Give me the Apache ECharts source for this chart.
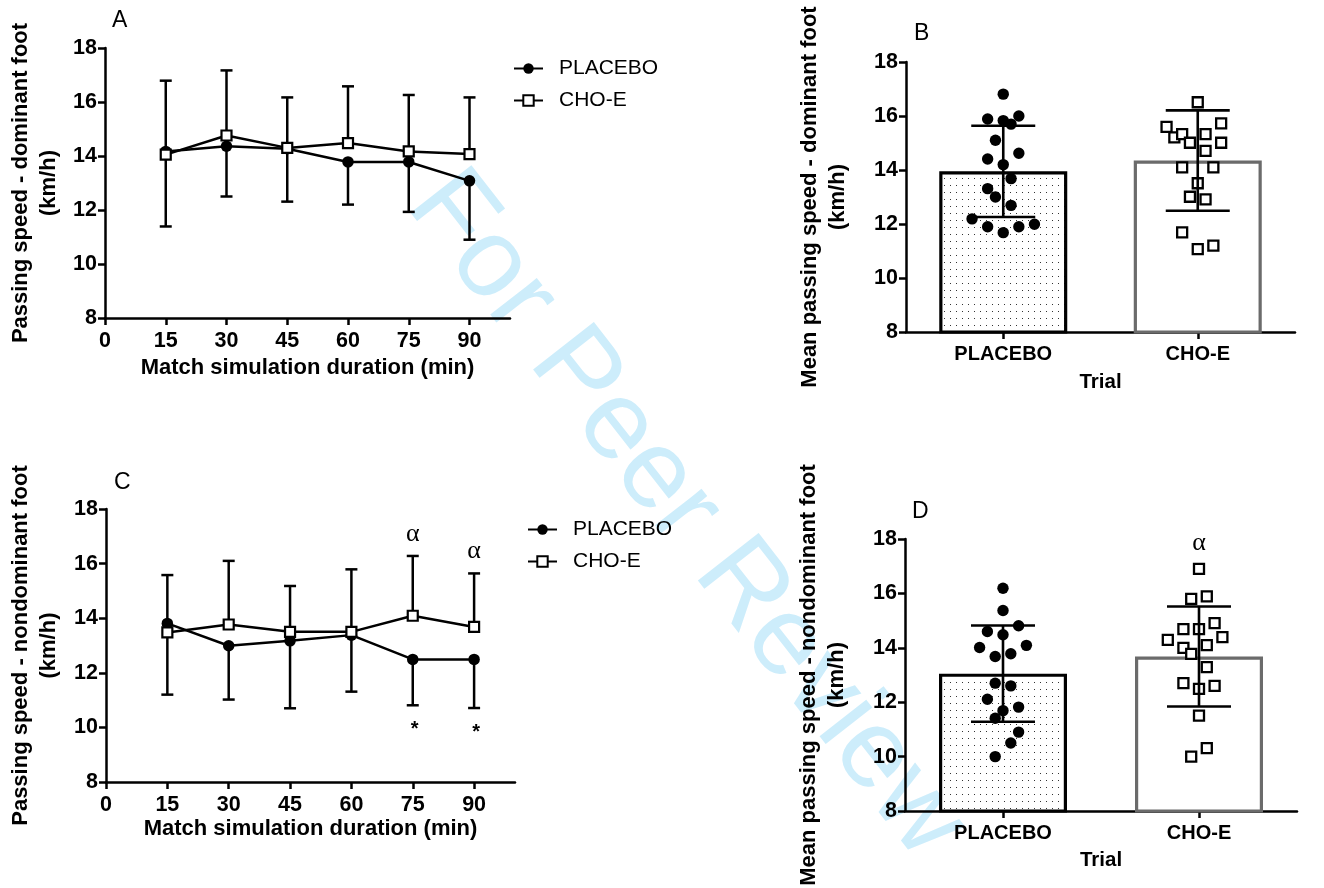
<!DOCTYPE html>
<html>
<head>
<meta charset="utf-8">
<title>Passing speed</title>
<script src="https://cdn.jsdelivr.net/npm/echarts@6/dist/echarts.min.js"></script>
<style>
  html, body { margin: 0; padding: 0; background: #fff; }
  #chart { width: 1324px; height: 888px; }
</style>
</head>
<body>
<div id="chart"></div>
<script>
// time points of the match simulation (min)
const timePoints = [15, 30, 45, 60, 75, 90];
const xTicks = [0, 15, 30, 45, 60, 75, 90];

// A - dominant foot, mean / SD
const domPlaceboMean = [14.17, 14.36, 14.27, 13.78, 13.78, 13.08];
const domPlaceboSd = [2.78, 1.86, 1.96, 1.58, 1.85, 2.18];
const domChoMean = [14.05, 14.76, 14.30, 14.48, 14.17, 14.07];
const domChoSd = [2.74, 2.41, 1.87, 2.10, 2.09, 2.10];

// C - nondominant foot, mean / SD
const ndPlaceboMean = [13.81, 12.99, 13.17, 13.38, 12.49, 12.49];
const ndPlaceboSd = [2.61, 1.97, 2.47, 2.07, 1.68, 1.78];
const ndChoMean = [13.48, 13.77, 13.50, 13.50, 14.09, 13.68];
const ndChoSd = [2.10, 2.33, 1.68, 2.29, 2.19, 1.96];
const ndAlphaAt = [75, 90];
const ndStarAt = [75, 90];

// B / D - whole match
const trials = ["PLACEBO", "CHO-E"];
const domTrialMean = [13.95, 14.35];
const domTrialSd = [1.69, 1.86];
const ndTrialMean = [13.05, 13.68];
const ndTrialSd = [1.77, 1.84];
const ndAlphaTrial = ["CHO-E"];

// individual players (value + column in the dot plot)
const domPlaceboPts = [16.81, 15.89, 15.83, 15.70, 16.00, 15.10, 14.41, 14.62, 14.20, 13.68, 13.31, 13.00, 12.69, 12.19, 11.90, 11.68, 11.90, 11.99];
const domPlaceboCol = [0, -2, 0, 1, 2, -1, -2, 2, 0, 1, -2, -1, 1, -4, -2, 0, 2, 4];
const domChoPts = [16.51, 15.60, 15.21, 15.33, 15.01, 15.33, 15.73, 15.01, 14.71, 14.10, 14.10, 13.51, 13.01, 12.91, 11.69, 11.07, 11.20];
const domChoCol = [0, -4, -3, -2, -1, 1, 3, 3, 1, -2, 2, 0, -1, 1, -2, 0, 2];
const ndPlaceboPts = [16.19, 15.37, 14.81, 14.60, 14.48, 14.01, 14.09, 13.68, 13.78, 12.70, 12.60, 12.11, 11.69, 11.82, 11.41, 10.90, 10.50, 10.00];
const ndPlaceboCol = [0, 0, 2, -2, 0, -3, 3, -1, 1, -1, 1, -2, 0, 2, -1, 2, 1, -1];
const ndChoPts = [16.90, 15.80, 15.89, 14.69, 14.69, 14.91, 14.29, 14.39, 14.00, 14.10, 13.78, 13.29, 12.70, 12.60, 12.49, 11.51, 10.00, 10.31];
const ndChoCol = [0, -1, 1, -2, 0, 2, -4, 3, -2, 1, -1, 1, -2, 2, 0, 0, -1, 1];

const FONT = '"Liberation Sans", Arial, sans-serif';
const COL_STEP = 7.8;

// dotted fill of the placebo bars
const dots = document.createElement("canvas");
dots.width = 6;
dots.height = 7;
const dctx = dots.getContext("2d");
dctx.fillStyle = "#fff";
dctx.fillRect(0, 0, 6, 7);
dctx.fillStyle = "#333";
dctx.fillRect(2, 3, 1, 1);

const chart = echarts.init(document.getElementById("chart"));

const axisLineStyle = { color: "#000", width: 2.5 };

function valueY(gi, name, gap) {
  return {
    type: "value", gridIndex: gi, min: 8, max: 18, interval: 2,
    axisLine: { show: true, lineStyle: axisLineStyle },
    axisTick: { show: true, length: 7, lineStyle: axisLineStyle },
    axisLabel: { fontSize: 21.5, fontWeight: "bold", color: "#000", margin: 8, fontFamily: FONT },
    splitLine: { show: false },
    name: name, nameLocation: "middle", nameRotate: 90, nameGap: gap,
    nameTextStyle: { fontSize: 22, fontWeight: "bold", color: "#000", lineHeight: 28, fontFamily: FONT },
  };
}

function timeX(gi, gap) {
  return {
    type: "value", gridIndex: gi, min: 0, max: 100,
    axisLine: { show: true, onZero: false, lineStyle: axisLineStyle },
    axisTick: { show: true, length: 7, lineStyle: axisLineStyle, customValues: xTicks },
    axisLabel: { fontSize: 21.5, fontWeight: "bold", color: "#000", margin: 12, fontFamily: FONT, customValues: xTicks },
    splitLine: { show: false },
    name: "Match simulation duration (min)", nameLocation: "middle", nameGap: gap,
    nameTextStyle: { fontSize: 22, fontWeight: "bold", color: "#000", fontFamily: FONT },
  };
}

function trialX(gi, gap) {
  return {
    type: "category", gridIndex: gi, data: trials,
    axisLine: { show: true, lineStyle: axisLineStyle },
    axisTick: { show: true, alignWithLabel: true, length: 7, lineStyle: axisLineStyle },
    axisLabel: { fontSize: 20, fontWeight: "bold", color: "#000", margin: 12, fontFamily: FONT },
    name: "Trial", nameLocation: "middle", nameGap: gap,
    nameTextStyle: { fontSize: 20.5, fontWeight: "bold", color: "#000", fontFamily: FONT },
  };
}

function pairs(xs, ys) {
  return xs.map((x, i) => [x, ys[i]]);
}

function lineSeries(name, gi, means, square) {
  return {
    type: "line", name: name, xAxisIndex: gi, yAxisIndex: gi,
    data: pairs(timePoints, means),
    symbol: square ? "rect" : "circle",
    symbolSize: square ? 10 : 11.5,
    showAllSymbol: true,
    lineStyle: { color: "#000", width: 2.5 },
    itemStyle: square ? { color: "#fff", borderColor: "#000", borderWidth: 2.2 } : { color: "#000" },
    emphasis: { disabled: true },
    z: square ? 5 : 4,
  };
}

// one-sided SD bars (dir 1 = above, -1 = below)
function sdBars(gi, means, sds, dir) {
  return {
    type: "custom", xAxisIndex: gi, yAxisIndex: gi, z: 3, silent: true,
    data: timePoints.map((t, i) => [t, means[i], sds[i]]),
    renderItem: (params, api) => {
      const m = api.value(1);
      const p0 = api.coord([api.value(0), m]);
      const p1 = api.coord([api.value(0), m + dir * api.value(2)]);
      const st = { stroke: "#000", lineWidth: 2.5 };
      return {
        type: "group", children: [
          { type: "line", shape: { x1: p0[0], y1: p0[1], x2: p1[0], y2: p1[1] }, style: st },
          { type: "line", shape: { x1: p1[0] - 6, y1: p1[1], x2: p1[0] + 6, y2: p1[1] }, style: st },
        ],
      };
    },
  };
}

function trialBars(gi, means) {
  return {
    type: "bar", xAxisIndex: gi, yAxisIndex: gi, barWidth: 128, silent: true, z: 2,
    data: [
      { value: means[0], itemStyle: { color: { image: dots, repeat: "repeat" }, borderColor: "#000", borderWidth: 3.2 } },
      { value: means[1], itemStyle: { color: "#fff", borderColor: "#6b6b6b", borderWidth: 3.2 } },
    ],
  };
}

function trialSd(gi, means, sds) {
  return {
    type: "custom", xAxisIndex: gi, yAxisIndex: gi, z: 6, silent: true,
    data: means.map((m, i) => [i, m, sds[i]]),
    renderItem: (params, api) => {
      const m = api.value(1), s = api.value(2);
      const hi = api.coord([api.value(0), m + s]);
      const lo = api.coord([api.value(0), m - s]);
      const st = { stroke: "#000", lineWidth: 2.6 };
      return {
        type: "group", children: [
          { type: "line", shape: { x1: hi[0], y1: hi[1], x2: lo[0], y2: lo[1] }, style: st },
          { type: "line", shape: { x1: hi[0] - 32, y1: hi[1], x2: hi[0] + 32, y2: hi[1] }, style: st },
          { type: "line", shape: { x1: lo[0] - 32, y1: lo[1], x2: lo[0] + 32, y2: lo[1] }, style: st },
        ],
      };
    },
  };
}

function players(gi, cat, vals, cols, square) {
  return {
    type: "custom", xAxisIndex: gi, yAxisIndex: gi, z: 5, silent: true,
    data: vals.map((v, i) => [cat, v, cols[i]]),
    renderItem: (params, api) => {
      const p = api.coord([api.value(0), api.value(1)]);
      const x = p[0] + api.value(2) * COL_STEP;
      if (square) {
        return { type: "rect", shape: { x: x - 5, y: p[1] - 5, width: 10, height: 10 },
          style: { fill: "#fff", stroke: "#000", lineWidth: 2.3 } };
      }
      return { type: "circle", shape: { cx: x, cy: p[1], r: 5.7 }, style: { fill: "#000" } };
    },
  };
}

function marks(gi, data, text, dx, dy, font) {
  return {
    type: "custom", xAxisIndex: gi, yAxisIndex: gi, z: 6, silent: true,
    data: data,
    renderItem: (params, api) => {
      const p = api.coord([api.value(0), api.value(1)]);
      return { type: "text", x: p[0] + dx, y: p[1] + dy,
        style: { text: text, font: font, fill: "#000", align: "center", verticalAlign: "middle" } };
    },
  };
}

const alphaFont = '26px "Liberation Serif", "Times New Roman", serif';
const starFont = 'bold 20px ' + FONT;

const ndAlphaData = ndAlphaAt.map(t => {
  const i = timePoints.indexOf(t);
  return [t, ndChoMean[i] + ndChoSd[i]];
});
const ndStarData = ndStarAt.map(t => {
  const i = timePoints.indexOf(t);
  return [t, ndPlaceboMean[i] - ndPlaceboSd[i]];
});
const ndAlphaTrialData = ndAlphaTrial.map(c => [trials.indexOf(c), Math.max(...ndChoPts)]);

function legend(left, top) {
  return {
    left: left, top: top, orient: "vertical", padding: 0,
    itemWidth: 29, itemHeight: 13, itemGap: 11,
    data: ["PLACEBO", "CHO-E"],
    selectedMode: false,
    textStyle: { fontSize: 21, color: "#000", fontFamily: FONT, padding: [0, 0, 0, 11] },
  };
}

const letterFont = '23px ' + FONT;

const option = {
  animation: false,
  backgroundColor: "#fff",
  grid: [
    { left: 105, top: 48, width: 405, height: 270 },
    { left: 906, top: 62, width: 389, height: 270 },
    { left: 106, top: 509, width: 409, height: 273 },
    { left: 905, top: 539, width: 392, height: 272 },
  ],
  legend: [legend(513, 58), legend(527, 519)],
  xAxis: [timeX(0, 39), trialX(1, 40), timeX(2, 36), trialX(3, 39)],
  yAxis: [
    valueY(0, "Passing speed - dominant foot\n(km/h)", 42),
    valueY(1, "Mean passing speed - dominant foot\n(km/h)", 54),
    valueY(2, "Passing speed - nondominant foot\n(km/h)", 43),
    valueY(3, "Mean passing speed - nondominant foot\n(km/h)", 54),
  ],
  graphic: [
    { type: "text", x: 686, y: 515, rotation: -52 * Math.PI / 180, z: 0, silent: true,
      style: { text: "For Peer Review", font: '112px ' + FONT, fill: "#cdedfb", align: "center", verticalAlign: "middle" } },
    { type: "text", x: 112, y: 21, style: { text: "A", font: letterFont, fill: "#000", verticalAlign: "middle" } },
    { type: "text", x: 914, y: 34, style: { text: "B", font: letterFont, fill: "#000", verticalAlign: "middle" } },
    { type: "text", x: 114, y: 483, style: { text: "C", font: letterFont, fill: "#000", verticalAlign: "middle" } },
    { type: "text", x: 912, y: 512, style: { text: "D", font: letterFont, fill: "#000", verticalAlign: "middle" } },
  ],
  series: [
    sdBars(0, domPlaceboMean, domPlaceboSd, -1),
    sdBars(0, domChoMean, domChoSd, 1),
    lineSeries("PLACEBO", 0, domPlaceboMean, false),
    lineSeries("CHO-E", 0, domChoMean, true),

    trialBars(1, domTrialMean),
    players(1, 0, domPlaceboPts, domPlaceboCol, false),
    players(1, 1, domChoPts, domChoCol, true),
    trialSd(1, domTrialMean, domTrialSd),

    sdBars(2, ndPlaceboMean, ndPlaceboSd, -1),
    sdBars(2, ndChoMean, ndChoSd, 1),
    lineSeries("PLACEBO", 2, ndPlaceboMean, false),
    lineSeries("CHO-E", 2, ndChoMean, true),
    marks(2, ndAlphaData, "α", 0, -22, alphaFont),
    marks(2, ndStarData, "*", 2, 24, starFont),

    trialBars(3, ndTrialMean),
    players(3, 0, ndPlaceboPts, ndPlaceboCol, false),
    players(3, 1, ndChoPts, ndChoCol, true),
    trialSd(3, ndTrialMean, ndTrialSd),
    marks(3, ndAlphaTrialData, "α", 0, -26, alphaFont),
  ],
};

chart.setOption(option);
</script>
</body>
</html>
